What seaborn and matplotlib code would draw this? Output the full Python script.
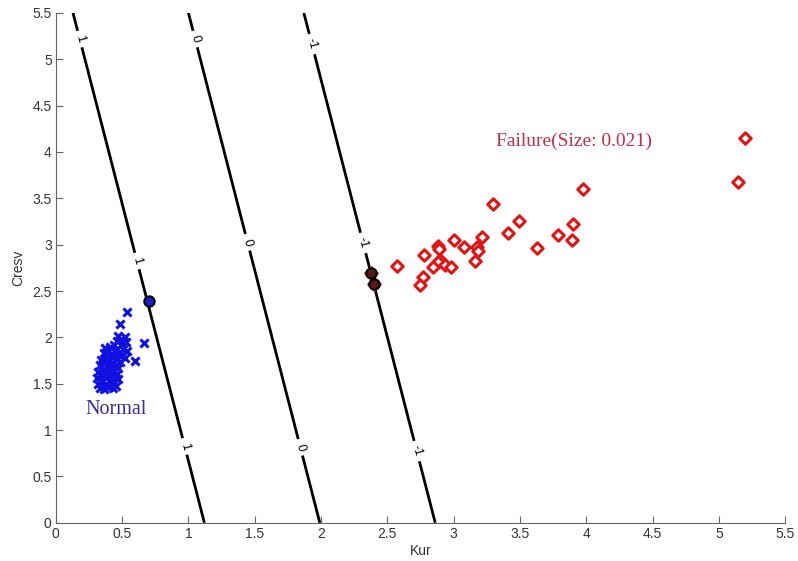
import matplotlib

matplotlib.use("Agg")
import matplotlib.pyplot as plt
import numpy as np
import seaborn as sns

# decision function f(kur, cresv) = B + W_KUR * kur + W_CRESV * cresv
W_KUR = -1.149
W_CRESV = -0.207
B = 2.287
LEVELS = [-1, 0, 1]
LEVEL_LABELS = {-1: "-1", 0: "0", 1: "1"}

normal_kur = [
    0.33, 0.36, 0.40, 0.43, 0.45,
    0.32, 0.35, 0.38, 0.41, 0.44, 0.47,
    0.31, 0.34, 0.37, 0.40, 0.43, 0.46,
    0.32, 0.35, 0.38, 0.41, 0.44, 0.47,
    0.33, 0.36, 0.39, 0.42, 0.45, 0.48,
    0.34, 0.37, 0.40, 0.43, 0.46,
    0.36, 0.39, 0.42, 0.45, 0.48,
    0.37, 0.41, 0.44,
    0.46, 0.49, 0.52, 0.47, 0.50, 0.53, 0.51, 0.54, 0.49, 0.52,
    0.538, 0.483, 0.667, 0.596,
]
normal_cresv = [
    1.45, 1.44, 1.46, 1.45, 1.48,
    1.50, 1.52, 1.50, 1.53, 1.52, 1.55,
    1.56, 1.58, 1.57, 1.60, 1.58, 1.61,
    1.63, 1.65, 1.63, 1.66, 1.64, 1.67,
    1.70, 1.72, 1.69, 1.72, 1.70, 1.73,
    1.76, 1.78, 1.75, 1.79, 1.77,
    1.83, 1.85, 1.82, 1.86, 1.84,
    1.89, 1.90, 1.92,
    1.96, 1.98, 2.00, 2.01, 1.93, 1.95, 1.88, 1.85, 1.80, 1.78,
    2.27, 2.15, 1.94, 1.75,
]

failure_kur = [
    2.571, 2.777, 2.767, 2.747, 2.878, 2.888, 2.893, 2.878, 2.843, 2.933,
    2.978, 2.999, 3.080, 3.175, 3.180, 3.157, 3.210, 3.295, 3.410, 3.490,
    3.628, 3.790, 3.900, 3.889, 3.975, 5.197, 5.145, 2.377, 2.400,
]
failure_cresv = [
    2.765, 2.884, 2.657, 2.560, 2.988, 2.956, 2.837, 2.808, 2.762, 2.780,
    2.762, 3.053, 2.974, 2.980, 2.934, 2.826, 3.080, 3.440, 3.125, 3.258,
    2.967, 3.100, 3.226, 3.053, 3.600, 4.150, 3.675, 2.694, 2.571,
]

sv_normal_kur = [0.70]
sv_normal_cresv = [2.39]
sv_failure_kur = [2.377, 2.400]
sv_failure_cresv = [2.694, 2.571]

ticks = [0, 0.5, 1, 1.5, 2, 2.5, 3, 3.5, 4, 4.5, 5, 5.5]
tick_labels = ["0", "0.5", "1", "1.5", "2", "2.5", "3", "3.5", "4", "4.5", "5", "5.5"]

sns.set_style("white")
plt.rcParams["font.family"] = ["Liberation Sans", "DejaVu Sans"]

fig = plt.figure(figsize=(7.98, 5.61), dpi=100)
ax = fig.add_axes([0.070, 0.068, 0.914, 0.909])

# margin contours
gx = np.linspace(0, 5.5, 300)
X, Y = np.meshgrid(gx, gx)
Z = B + W_KUR * X + W_CRESV * Y
cs = ax.contour(X, Y, Z, levels=LEVELS, colors="black", linewidths=2,
                linestyles="solid")
label_pos = [
    (0.16, 5.21), (0.71, 2.86), (0.96, 0.82),
    (1.03, 5.21), (1.43, 3.02), (1.83, 0.81),
    (1.92, 5.16), (2.32, 3.02), (2.71, 0.77),
]
ax.clabel(cs, fmt=LEVEL_LABELS, manual=label_pos, inline=True, fontsize=9)

sns.scatterplot(x=normal_kur, y=normal_cresv, marker="x", color="#1010e0",
                s=34, linewidth=2.2, ax=ax, zorder=3)
sns.scatterplot(x=failure_kur, y=failure_cresv, marker="D", color="white",
                edgecolor="#e01515", s=34, linewidth=2.2, ax=ax, zorder=3)
sns.scatterplot(x=sv_normal_kur, y=sv_normal_cresv, marker="o", color="#1a1ad0",
                edgecolor="black", s=55, linewidth=1.5, ax=ax, zorder=4)
sns.scatterplot(x=sv_failure_kur, y=sv_failure_cresv, marker="o", color="#5a1818",
                edgecolor="black", s=55, linewidth=1.5, ax=ax, zorder=4)

ax.text(0.226, 1.22, "Normal", color="#3a2aa0", fontsize=14.5,
        family="Liberation Serif", ha="left", va="center")
ax.text(3.32, 4.12, "Failure(Size: 0.021)", color="#c0304a", fontsize=14,
        family="Liberation Serif", ha="left", va="center")

ax.set_xlim(0, 5.5)
ax.set_ylim(0, 5.5)
ax.set_xticks(ticks)
ax.set_xticklabels(tick_labels)
ax.set_yticks(ticks)
ax.set_yticklabels(tick_labels)
ax.set_xlabel("Kur", fontsize=10, color="#333333", labelpad=2)
ax.set_ylabel("Cresv", fontsize=10, color="#333333", labelpad=5)
ax.tick_params(direction="in", length=5, width=0.8, color="#666666",
               labelsize=10, labelcolor="#333333", bottom=True, left=True, pad=3)
for side in ["top", "right"]:
    ax.spines[side].set_visible(False)
for side in ["left", "bottom"]:
    ax.spines[side].set_color("#666666")
    ax.spines[side].set_linewidth(0.8)

fig.savefig("out.png", dpi=100)
